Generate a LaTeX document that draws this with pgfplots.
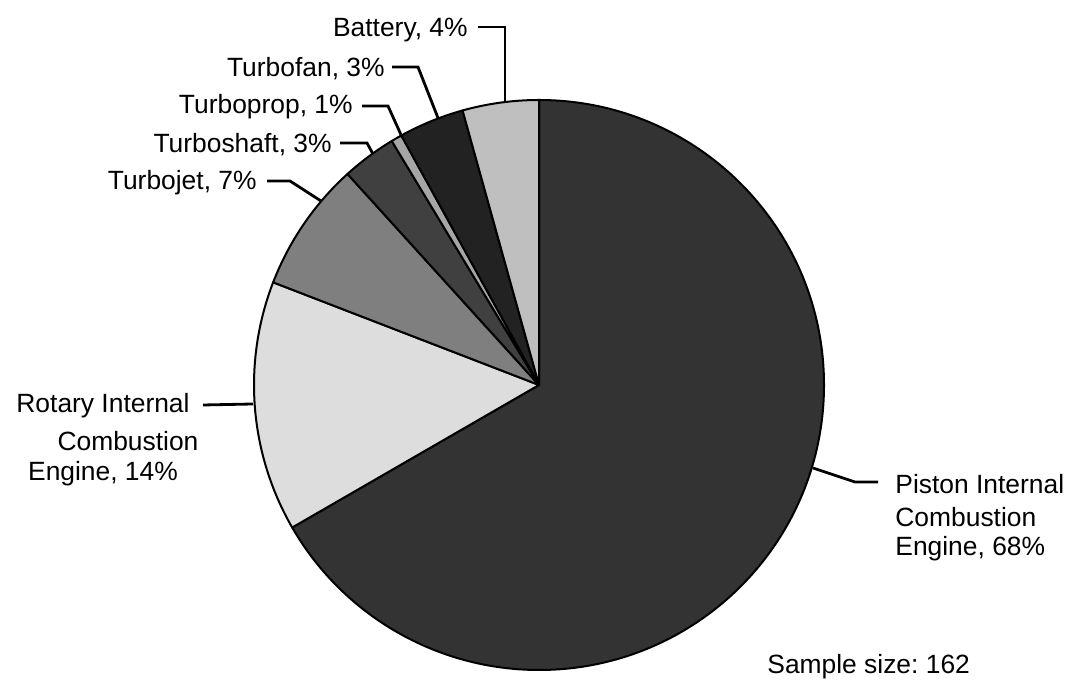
\documentclass[border=0pt]{standalone}
\usepackage{pgfplots}
\pgfplotsset{compat=1.18}
\usepackage{pgfplotstable}
\usepackage{fontspec}
\setmainfont{Liberation Sans}
\frenchspacing

% slice shades, in drawing order (clockwise from 12 o'clock)
\definecolor{slice0}{HTML}{333333}
\definecolor{slice1}{HTML}{DDDDDD}
\definecolor{slice2}{HTML}{7F7F7F}
\definecolor{slice3}{HTML}{404040}
\definecolor{slice4}{HTML}{A6A6A6}
\definecolor{slice5}{HTML}{222222}
\definecolor{slice6}{HTML}{BFBFBF}

\tikzset{lbl/.style={font=\fontsize{13.2}{16}\selectfont, inner sep=0pt}}

% engine type counts, sample size 162
\pgfplotstableread{
type count
Piston 108
Rotary 23
Turbojet 12
Turboshaft 5
Turboprop 1
Turbofan 6
Battery 7
}\enginedata

\begin{document}
\begin{tikzpicture}
\begin{axis}[
    scale only axis,
    width=537pt, height=338.5pt,
    xmin=0, xmax=1074, ymin=0, ymax=677,
    hide axis, clip=false,
]
\path (rel axis cs:0,0) rectangle (rel axis cs:1,1);

\pgfmathsetmacro{\cum}{0}
\pgfplotsforeachungrouped \i in {0,...,6}{%
    \pgfplotstablegetelem{\i}{count}\of\enginedata
    \let\n=\pgfplotsretval
    \pgfmathsetmacro{\a}{90-\cum/162*360}%
    \pgfmathsetmacro{\cum}{\cum+\n}%
    \pgfmathsetmacro{\b}{90-\cum/162*360}%
    \edef\slice{\noexpand\filldraw[fill=slice\i, draw=black, line width=1pt, line join=round]
        (axis cs:539,292) -- ++(\a:142.5pt) arc[start angle=\a, end angle=\b, radius=142.5pt] -- cycle;}%
    \slice
}

% leader lines
\begin{scope}[line width=1.4pt]
\draw (axis cs:478,650) -- (axis cs:505,650) -- (axis cs:505,575);
\draw (axis cs:392,610) -- (axis cs:418,610) -- (axis cs:438,559);
\draw (axis cs:362,571) -- (axis cs:388,571) -- (axis cs:402,540);
\draw (axis cs:340,534) -- (axis cs:367,534) -- (axis cs:373,523);
\draw (axis cs:267,496) -- (axis cs:290,496) -- (axis cs:321,476);
\draw (axis cs:203,272) -- (axis cs:253,273);
\draw (axis cs:878,195) -- (axis cs:855,195) -- (axis cs:813,209);
\end{scope}

% labels
\node[lbl, anchor=east] at (axis cs:468,647) {Battery, 4\%};
\node[lbl, anchor=east] at (axis cs:385,608) {Turbofan, 3\%};
\node[lbl, anchor=east] at (axis cs:353,570) {Turboprop, 1\%};
\node[lbl, anchor=east] at (axis cs:332,532) {Turboshaft, 3\%};
\node[lbl, anchor=east] at (axis cs:257,494) {Turbojet, 7\%};
\node[lbl] at (axis cs:103,271) {Rotary Internal};
\node[lbl] at (axis cs:128,236) {Combustion};
\node[lbl] at (axis cs:103,203) {Engine, 14\%};
\node[lbl, anchor=west] at (axis cs:895,193) {Piston Internal};
\node[lbl, anchor=west] at (axis cs:895,160) {Combustion};
\node[lbl, anchor=west] at (axis cs:895,128) {Engine, 68\%};
\node[lbl, anchor=west] at (axis cs:767,10) {Sample size: 162};
\end{axis}
\end{tikzpicture}
\end{document}
